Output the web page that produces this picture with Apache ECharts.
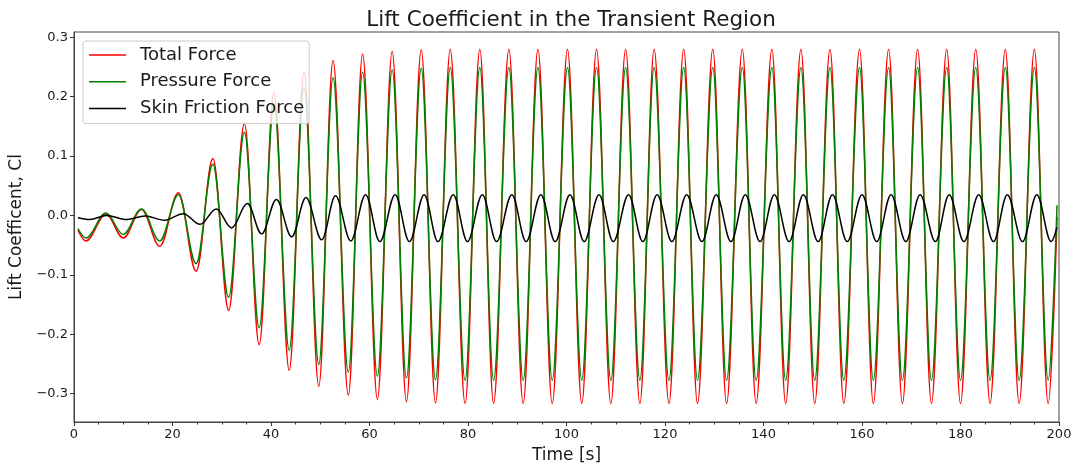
<!DOCTYPE html>
<html>
<head>
<meta charset="utf-8">
<title>Lift Coefficient in the Transient Region</title>
<script src="https://cdn.jsdelivr.net/npm/echarts@6/dist/echarts.min.js"></script>
<style>
  html, body { margin: 0; padding: 0; background: #ffffff; }
  #chart { width: 1077px; height: 470px; }
</style>
</head>
<body>
<div id="chart"></div>
<script>
// Extrema (peaks and troughs) of the lift coefficient, time in seconds.
// Total and pressure force share the same extrema times.
const forceTimes = [
  0.8, 2.4, 6.5, 10.0, 13.7, 17.4, 21.2, 24.8, 28.2, 31.4,
  34.6, 37.6, 40.6, 43.7, 46.7, 49.7, 52.6, 55.7, 58.6, 61.6,
  64.6, 67.5, 70.5, 73.4, 76.4, 79.4, 82.4, 85.2, 88.3, 91.2,
  94.2, 97.1, 100.2, 103.1, 106.1, 109.0, 112.0, 114.9, 117.8, 120.8,
  123.8, 126.6, 129.7, 132.5, 135.7, 138.5, 141.7, 144.5, 147.6, 150.4,
  153.5, 156.3, 159.5, 162.3, 165.4, 168.2, 171.3, 174.1, 177.2, 180.0,
  183.1, 186.0, 189.1, 191.9, 195.0, 197.8, 199.6
];

const totalForce = [
  -0.025, -0.043, 0.002, -0.038, 0.010, -0.052, 0.038, -0.094, 0.096, -0.160,
  0.155, -0.218, 0.208, -0.261, 0.241, -0.288, 0.261, -0.303, 0.272, -0.310,
  0.276, -0.314, 0.279, -0.316, 0.280, -0.317, 0.280, -0.317, 0.280, -0.317,
  0.280, -0.317, 0.280, -0.317, 0.280, -0.317, 0.280, -0.317, 0.280, -0.317,
  0.280, -0.317, 0.280, -0.317, 0.280, -0.317, 0.280, -0.317, 0.280, -0.317,
  0.280, -0.317, 0.280, -0.317, 0.280, -0.317, 0.280, -0.317, 0.280, -0.317,
  0.280, -0.317, 0.280, -0.317, 0.280, -0.317, -0.003
];

const pressureForce = [
  -0.022, -0.038, 0.004, -0.032, 0.011, -0.043, 0.035, -0.081, 0.086, -0.138,
  0.140, -0.189, 0.188, -0.227, 0.215, -0.251, 0.232, -0.264, 0.241, -0.271,
  0.245, -0.274, 0.248, -0.277, 0.249, -0.278, 0.249, -0.278, 0.249, -0.278,
  0.249, -0.278, 0.249, -0.278, 0.249, -0.278, 0.249, -0.278, 0.249, -0.278,
  0.249, -0.278, 0.249, -0.278, 0.249, -0.278, 0.249, -0.278, 0.249, -0.278,
  0.249, -0.278, 0.249, -0.278, 0.249, -0.278, 0.249, -0.278, 0.249, -0.278,
  0.249, -0.278, 0.249, -0.278, 0.249, -0.278, 0.017
];

const frictionTimes = [
  0.8, 3.2, 6.6, 10.7, 14.4, 18.4, 22.2, 25.6, 28.9, 32.0,
  35.2, 38.1, 41.1, 44.2, 47.1, 50.3, 53.1, 56.2, 59.2, 62.1,
  65.2, 68.1, 71.1, 73.9, 77.0, 79.9, 82.9, 85.8, 88.9, 91.8,
  94.8, 97.7, 100.7, 103.6, 106.6, 109.5, 112.6, 115.5, 118.4, 121.4,
  124.4, 127.5, 130.4, 133.4, 136.3, 139.3, 142.2, 145.2, 148.1, 151.1,
  154.0, 157.0, 160.0, 163.0, 165.9, 168.9, 171.8, 174.9, 177.7, 180.7,
  183.7, 186.7, 189.5, 192.6, 195.5, 198.4, 199.6
];

const skinFriction = [
  -0.004, -0.007, 0.000, -0.007, -0.001, -0.008, 0.003, -0.015, 0.011, -0.021,
  0.020, -0.031, 0.027, -0.036, 0.030, -0.041, 0.033, -0.043, 0.035, -0.044,
  0.035, -0.044, 0.035, -0.044, 0.035, -0.044, 0.035, -0.044, 0.035, -0.044,
  0.035, -0.044, 0.035, -0.044, 0.035, -0.044, 0.035, -0.044, 0.035, -0.044,
  0.035, -0.044, 0.035, -0.044, 0.035, -0.044, 0.035, -0.044, 0.035, -0.044,
  0.035, -0.044, 0.035, -0.044, 0.035, -0.044, 0.035, -0.044, 0.035, -0.044,
  0.035, -0.044, 0.035, -0.044, 0.035, -0.044, -0.020
];

const yTicks = [-0.3, -0.2, -0.1, 0.0, 0.1, 0.2, 0.3];

const seriesNames = ['Total Force', 'Pressure Force', 'Skin Friction Force'];
const seriesColors = ['#ff0000', '#008000', '#000000'];

const FONT = 'DejaVu Sans, Verdana, sans-serif';

function pairs(xs, ys) {
  return xs.map((x, i) => [x, ys[i]]);
}

function fmtY(v) {
  return v.toFixed(1).replace('-', '\u2212');
}

function lineSeries(idx, data) {
  return {
    name: seriesNames[idx],
    type: 'line',
    data: data,
    showSymbol: false,
    smooth: 0.36,
    smoothMonotone: 'x',
    lineStyle: { color: seriesColors[idx], width: 1.5 },
    itemStyle: { color: seriesColors[idx] },
    z: 2 + idx,
    silent: true
  };
}

const chart = echarts.init(document.getElementById('chart'), null, { renderer: 'canvas' });

chart.setOption({
  animation: false,
  backgroundColor: '#ffffff',
  title: {
    text: 'Lift Coefficient in the Transient Region',
    left: 566,
    textAlign: 'center',
    top: 4,
    textStyle: { fontFamily: FONT, fontSize: 21.5, fontWeight: 'normal', color: '#1a1a1a' }
  },
  grid: {
    left: 74, right: 18, top: 32, bottom: 48,
    show: true, borderColor: '#444', borderWidth: 1, backgroundColor: 'transparent'
  },
  legend: {
    left: 83, top: 41,
    orient: 'vertical',
    data: seriesNames.map((n, i) => ({ name: n, icon: 'rect', itemStyle: { color: seriesColors[i] } })),
    itemWidth: 37,
    itemHeight: 1.5,
    itemGap: 8.8,
    padding: [5, 5, 6, 6],
    backgroundColor: 'rgba(255,255,255,0.8)',
    borderColor: '#cccccc',
    borderWidth: 1,
    borderRadius: 3,
    formatter: name => '{gap|}' + name,
    textStyle: {
      fontFamily: FONT, fontSize: 18, color: '#1a1a1a', lineHeight: 18,
      rich: { gap: { width: 9 } }
    },
    selectedMode: false
  },
  xAxis: {
    type: 'value',
    min: 0, max: 200, interval: 20,
    name: 'Time [s]',
    nameLocation: 'middle',
    nameGap: 25,
    nameTextStyle: { fontFamily: FONT, fontSize: 17, color: '#1a1a1a' },
    axisLine: { show: true, onZero: false, lineStyle: { color: '#444', width: 1 } },
    axisTick: { show: true, inside: false, length: 4, lineStyle: { color: '#333', width: 1 } },
    minorTick: { show: true, splitNumber: 4, length: 2.5, lineStyle: { color: '#333', width: 1 } },
    splitLine: { show: false },
    axisLabel: { fontFamily: FONT, fontSize: 13, color: '#1a1a1a', margin: 6 }
  },
  yAxis: {
    type: 'value',
    min: -0.348, max: 0.309,
    name: 'Lift Coefficent, Cl',
    nameLocation: 'middle',
    nameGap: 47,
    nameRotate: 90,
    nameTextStyle: { fontFamily: FONT, fontSize: 17, color: '#1a1a1a' },
    axisLine: { show: true, onZero: false, lineStyle: { color: '#444', width: 1 } },
    axisTick: { show: true, inside: false, length: 4, customValues: yTicks, lineStyle: { color: '#333', width: 1 } },
    splitLine: { show: false },
    axisLabel: {
      fontFamily: FONT, fontSize: 13, color: '#1a1a1a', margin: 6,
      customValues: yTicks,
      formatter: v => fmtY(v)
    }
  },
  series: [
    lineSeries(0, pairs(forceTimes, totalForce)),
    lineSeries(1, pairs(forceTimes, pressureForce)),
    lineSeries(2, pairs(frictionTimes, skinFriction))
  ]
});
</script>
</body>
</html>
